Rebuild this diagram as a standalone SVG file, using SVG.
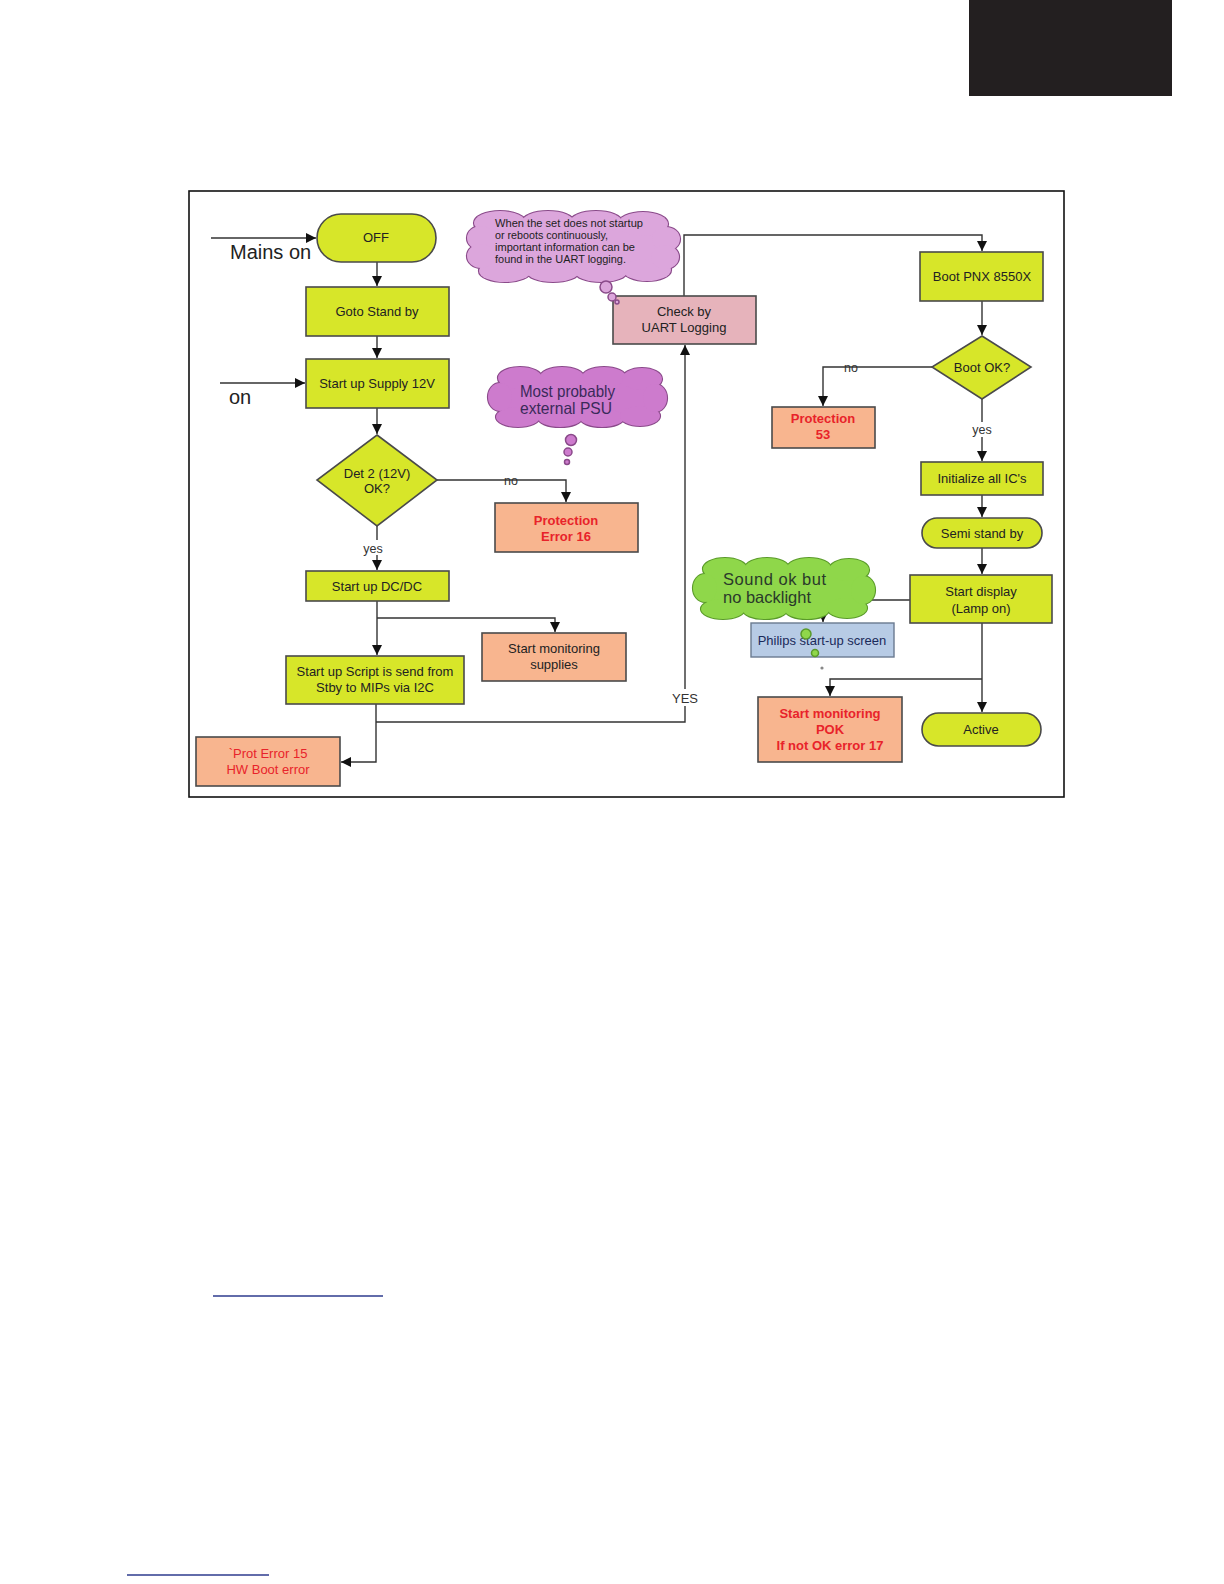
<svg xmlns="http://www.w3.org/2000/svg" xmlns:xlink="http://www.w3.org/1999/xlink" width="1224" height="1584" viewBox="0 0 1224 1584">
<defs>
<marker id="ah" viewBox="0 0 10 10" refX="10" refY="5" markerWidth="11" markerHeight="10" markerUnits="userSpaceOnUse" orient="auto">
<path d="M0,0 L10,5 L0,10 Z" fill="#111"/>
</marker>
<style>
.bx{fill:#d7e629;stroke:#4a4a4a;stroke-width:1.6}
.er{fill:#f8b58f;stroke:#4a4a4a;stroke-width:1.6}
.pk{fill:#e6b3bb;stroke:#4a4a4a;stroke-width:1.6}
.bl{fill:#b7cbe5;stroke:#6a7a90;stroke-width:1.4}
.t{font-family:"Liberation Sans",Arial,sans-serif;font-size:13px;fill:#222;text-anchor:middle}
.r{font-family:"Liberation Sans",Arial,sans-serif;font-size:13px;fill:#e8232a;text-anchor:middle}
.rb{font-family:"Liberation Sans",Arial,sans-serif;font-size:13px;font-weight:bold;fill:#e8232a;text-anchor:middle}
.lb{font-family:"Liberation Sans",Arial,sans-serif;font-size:12.5px;fill:#333;text-anchor:middle}
.big{font-family:"Liberation Sans",Arial,sans-serif;font-size:20px;fill:#222}
.ca{fill:none;stroke:#333;stroke-width:1.4;marker-end:url(#ah)}
</style>
<g id="cl1">
<rect x="477" y="220" width="192" height="54" rx="25"/>
<ellipse cx="500" cy="223" rx="26" ry="12"/><ellipse cx="548" cy="222" rx="26" ry="11"/><ellipse cx="596" cy="222" rx="26" ry="11"/><ellipse cx="643" cy="224" rx="25" ry="12"/>
<ellipse cx="505" cy="271" rx="26" ry="11"/><ellipse cx="553" cy="272" rx="26" ry="10"/><ellipse cx="601" cy="272" rx="26" ry="10"/><ellipse cx="647" cy="270" rx="24" ry="11"/>
<ellipse cx="481" cy="238" rx="14" ry="12"/><ellipse cx="481" cy="256" rx="14" ry="12"/>
<ellipse cx="666" cy="239" rx="14" ry="12"/><ellipse cx="665" cy="257" rx="14" ry="12"/>
</g>
<g id="cl2">
<rect x="498" y="376" width="160" height="44" rx="22"/>
<ellipse cx="520" cy="378" rx="22" ry="11"/><ellipse cx="562" cy="377" rx="22" ry="10"/><ellipse cx="604" cy="377" rx="22" ry="10"/><ellipse cx="642" cy="379" rx="20" ry="11"/>
<ellipse cx="518" cy="417" rx="22" ry="10"/><ellipse cx="560" cy="418" rx="22" ry="9"/><ellipse cx="602" cy="418" rx="22" ry="9"/><ellipse cx="640" cy="416" rx="20" ry="10"/>
<ellipse cx="500" cy="397" rx="12" ry="14"/><ellipse cx="655" cy="398" rx="12" ry="14"/>
</g>
<g id="cl3">
<rect x="703" y="567" width="162" height="44" rx="22"/>
<ellipse cx="725" cy="569" rx="22" ry="11"/><ellipse cx="767" cy="568" rx="22" ry="10"/><ellipse cx="809" cy="568" rx="22" ry="10"/><ellipse cx="849" cy="570" rx="20" ry="11"/>
<ellipse cx="723" cy="609" rx="22" ry="10"/><ellipse cx="765" cy="610" rx="22" ry="9"/><ellipse cx="807" cy="610" rx="22" ry="9"/><ellipse cx="847" cy="608" rx="20" ry="10"/>
<ellipse cx="705" cy="588" rx="12" ry="14"/><ellipse cx="863" cy="590" rx="12" ry="14"/>
</g>
</defs>
<rect width="1224" height="1584" fill="#fff"/>
<rect x="969" y="0" width="203" height="96" fill="#231f20"/>
<rect x="189" y="191" width="875" height="606" fill="none" stroke="#111" stroke-width="1.6"/>

<g id="connectors">
<path class="ca" d="M211,238 H316"/>
<path class="ca" d="M377,262 V286"/>
<path class="ca" d="M377,336 V358"/>
<path class="ca" d="M220,383 H305"/>
<path class="ca" d="M377,408 V434"/>
<path class="ca" d="M437,480 H566 V502"/>
<path class="ca" d="M377,526 V570"/>
<path class="ca" d="M377,601 V655"/>
<path class="ca" d="M377,618 H555 V632"/>
<path class="ca" d="M376,704 V762 H341"/>
<path class="ca" d="M376,722 H685 V345"/>
<path class="ca" d="M684,296 V235 H982 V251"/>
<path class="ca" d="M982,301 V335"/>
<path class="ca" d="M932,367 H823 V406"/>
<path class="ca" d="M982,399 V461"/>
<path class="ca" d="M982,495 V517"/>
<path class="ca" d="M982,548 V574"/>
<path class="ca" d="M910,600 H823 V622"/>
<path class="ca" d="M982,623 V712"/>
<path class="ca" d="M982,679 H830 V696"/>
<rect x="362" y="540" width="22" height="15" fill="#fff"/>
<rect x="969" y="422" width="26" height="15" fill="#fff"/>
<rect x="670" y="689" width="30" height="17" fill="#fff"/>
<text class="lb" x="511" y="485">no</text>
<text class="lb" x="373" y="553">yes</text>
<text class="lb" x="851" y="372">no</text>
<text class="lb" x="982" y="434">yes</text>
<text class="lb" x="685" y="703" style="font-size:13px">YES</text>
<text class="big" x="230" y="259">Mains on</text>
<text class="big" x="229" y="404">on</text>
</g>

<g id="n-off"><rect class="bx" x="317" y="214" width="119" height="48" rx="24"/><text class="t" x="376" y="242">OFF</text></g>
<g id="n-goto"><rect class="bx" x="306" y="287" width="143" height="49"/><text class="t" x="377" y="316">Goto Stand by</text></g>
<g id="n-supply"><rect class="bx" x="306" y="359" width="143" height="49"/><text class="t" x="377" y="388">Start up Supply 12V</text></g>
<g id="n-det2"><path class="bx" d="M377,435 L437,480 L377,526 L317,480 Z"/><text class="t" x="377" y="478">Det 2 (12V)</text><text class="t" x="377" y="493">OK?</text></g>
<g id="n-prot16"><rect class="er" x="495" y="503" width="143" height="49"/><text class="rb" x="566" y="525">Protection</text><text class="rb" x="566" y="541">Error 16</text></g>
<g id="n-dcdc"><rect class="bx" x="306" y="571" width="143" height="30"/><text class="t" x="377" y="591">Start up DC/DC</text></g>
<g id="n-monsup"><rect class="er" x="482" y="633" width="144" height="48"/><text class="t" x="554" y="653">Start monitoring</text><text class="t" x="554" y="669">supplies</text></g>
<g id="n-script"><rect class="bx" x="286" y="656" width="178" height="48"/><text class="t" x="375" y="676">Start up Script is send from</text><text class="t" x="375" y="692">Stby to MIPs via I2C</text></g>
<g id="n-prot15"><rect class="er" x="196" y="737" width="144" height="49"/><text class="r" x="268" y="758">`Prot Error 15</text><text class="r" x="268" y="774">HW Boot error</text></g>
<g id="n-uart"><rect class="pk" x="613" y="296" width="143" height="48"/><text class="t" x="684" y="316">Check by</text><text class="t" x="684" y="332">UART Logging</text></g>
<g id="n-boot"><rect class="bx" x="920" y="252" width="123" height="49"/><text class="t" x="982" y="281">Boot PNX 8550X</text></g>
<g id="n-bootok"><path class="bx" d="M982,336 L1031,367 L982,399 L932,367 Z"/><text class="t" x="982" y="372">Boot OK?</text></g>
<g id="n-prot53"><rect class="er" x="772" y="407" width="103" height="41"/><text class="rb" x="823" y="423">Protection</text><text class="rb" x="823" y="439">53</text></g>
<g id="n-init"><rect class="bx" x="921" y="462" width="122" height="33"/><text class="t" x="982" y="483">Initialize all IC's</text></g>
<g id="n-semi"><rect class="bx" x="922" y="518" width="120" height="30" rx="15"/><text class="t" x="982" y="538">Semi stand by</text></g>
<g id="n-display"><rect class="bx" x="910" y="575" width="142" height="48"/><text class="t" x="981" y="596">Start display</text><text class="t" x="981" y="613">(Lamp on)</text></g>
<g id="n-philips"><rect class="bl" x="751" y="623" width="143" height="34"/><text class="t" x="822" y="645" style="fill:#1a2a5a">Philips start-up screen</text></g>
<g id="n-pok"><rect class="er" x="758" y="697" width="144" height="65"/><text class="rb" x="830" y="718">Start monitoring</text><text class="rb" x="830" y="734">POK</text><text class="rb" x="830" y="750">If not OK error 17</text></g>
<g id="n-active"><rect class="bx" x="922" y="713" width="119" height="33" rx="16.5"/><text class="t" x="981" y="734">Active</text></g>

<g id="cloud-uart">
<use xlink:href="#cl1" href="#cl1" fill="#dca6dc" stroke="#8a4a8a" stroke-width="2.2"/>
<use xlink:href="#cl1" href="#cl1" fill="#dca6dc"/>
<g fill="#dca6dc" stroke="#8a4a8a" stroke-width="1.5">
<circle cx="606" cy="287" r="6"/><circle cx="612" cy="297" r="4"/><circle cx="617" cy="302" r="2"/>
</g>
<g font-family="Liberation Sans, Arial, sans-serif" font-size="11" fill="#222">
<text x="495" y="227" textLength="148" lengthAdjust="spacingAndGlyphs">When the set does not startup</text>
<text x="495" y="239" textLength="113" lengthAdjust="spacingAndGlyphs">or reboots continuously,</text>
<text x="495" y="251" textLength="140" lengthAdjust="spacingAndGlyphs">important information can be</text>
<text x="495" y="263" textLength="131" lengthAdjust="spacingAndGlyphs">found in the UART logging.</text>
</g>
</g>

<g id="cloud-psu">
<use xlink:href="#cl2" href="#cl2" fill="#cd7bcd" stroke="#8a4a8a" stroke-width="2.2"/>
<use xlink:href="#cl2" href="#cl2" fill="#cd7bcd"/>
<g fill="#cd7bcd" stroke="#8a4a8a" stroke-width="1.5">
<circle cx="571" cy="440" r="5.5"/><circle cx="568" cy="452" r="4"/><circle cx="567" cy="462" r="2.5"/>
</g>
<text x="520" y="397" font-family="Liberation Sans, Arial, sans-serif" font-size="16.5" fill="#3a2a5a" textLength="95" lengthAdjust="spacingAndGlyphs">Most probably</text>
<text x="520" y="414" font-family="Liberation Sans, Arial, sans-serif" font-size="16.5" fill="#3a2a5a" textLength="92" lengthAdjust="spacingAndGlyphs">external PSU</text>
</g>

<g id="cloud-sound">
<use xlink:href="#cl3" href="#cl3" fill="#8fd74a" stroke="#5a9a2a" stroke-width="2.2"/>
<use xlink:href="#cl3" href="#cl3" fill="#8fd74a"/>
<g fill="#8fd74a" stroke="#5a9a2a" stroke-width="1.5">
<circle cx="806" cy="634" r="5"/><circle cx="815" cy="653" r="3.5"/>
</g>
<circle cx="822" cy="668" r="1.6" fill="#888"/>
<text x="723" y="585" font-family="Liberation Sans, Arial, sans-serif" font-size="16.5" fill="#2a3a2a" textLength="103" lengthAdjust="spacing">Sound ok but</text>
<text x="723" y="603" font-family="Liberation Sans, Arial, sans-serif" font-size="16.5" fill="#2a3a2a" textLength="88" lengthAdjust="spacing">no backlight</text>
</g>

<line x1="213" y1="1296" x2="383" y2="1296" stroke="#2e3b8e" stroke-width="1.5"/>
<line x1="127" y1="1575" x2="269" y2="1575" stroke="#2e3b8e" stroke-width="1.5"/>
</svg>
